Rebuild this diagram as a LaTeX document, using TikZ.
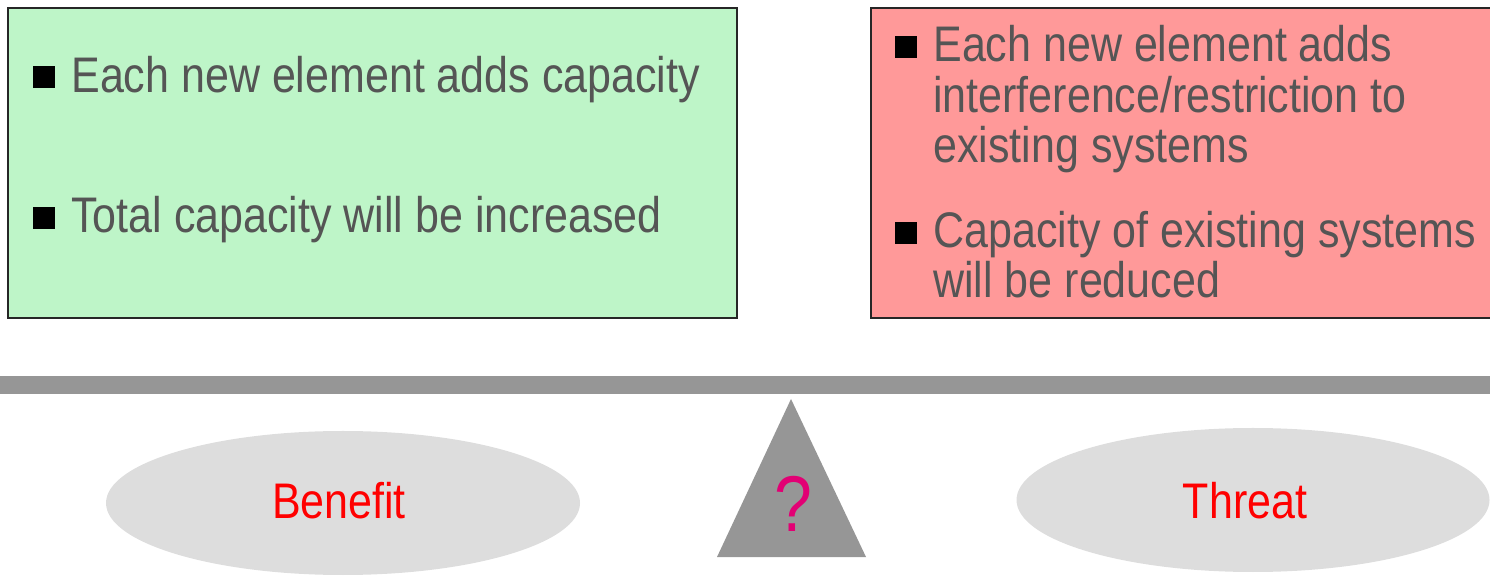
\documentclass[tikz,border=0pt]{standalone}
\usepackage{fontspec}
\setmainfont{Liberation Sans}[FakeStretch=0.86]
\usetikzlibrary{positioning}
\definecolor{boxgreen}{HTML}{BEF5C8}
\definecolor{boxred}{HTML}{FF9999}
\definecolor{beamgray}{HTML}{969696}
\definecolor{potgray}{HTML}{DDDDDD}
\definecolor{txtgray}{HTML}{555555}
\definecolor{tmagenta}{HTML}{E20074}
\newcommand{\itemfont}{\fontsize{28.45pt}{29pt}\selectfont}
\newcommand{\askfont}{\fontsize{45pt}{46pt}\selectfont}

\begin{document}
\begin{tikzpicture}[
		item/.style={anchor=base west, align=left, text=txtgray, font=\itemfont, inner sep=0pt},
		square/.style={fill=black, minimum size=0.44cm, inner sep=0pt},
		pan/.style={anchor=base, text=red, font=\itemfont, inner sep=0pt}
	]
		\useasboundingbox (0,0) rectangle (29.8,11.52);
		% boxes
		\draw[fill=boxgreen, line width=1.2pt, draw=black!85] (0.16,5.16) rectangle (14.74,11.36);
		\draw[fill=boxred, line width=1.2pt, draw=black!85] (17.42,5.16) rectangle (29.95,11.36);
		% bullets
		\foreach \x/\y [count=\i] in {0.88/9.97, 0.88/7.15, 18.12/10.58, 18.12/6.86}
		{
			\node[square] (sq\i) at (\x,\y) {};
		}
		% items of the benefit box
		\node[item] (add) at (1.42,9.66) {Each new element adds capacity};
		\node[item] (total) at (1.42,6.86) {Total capacity will be increased};
		% items of the threat box (base = last line)
		\node[item] (restrict) at (18.66,8.26) {Each new element adds\\interference/restriction to\\existing systems};
		\node[item] (reduce) at (18.66,5.56) {Capacity of existing systems\\will be reduced};
		% beam of the balance
		\fill[beamgray] (0,3.64) rectangle (29.8,4.0);
		% pivot
		\fill[beamgray] (14.34,0.38) -- (15.82,3.54) -- (17.32,0.38) -- cycle;
		\node[anchor=base, text=tmagenta, font=\askfont, inner sep=0pt] (ask) at (15.86,0.90) {?};
		% the two pans
		\fill[potgray] (6.86,1.46) ellipse (4.74 and 1.44);
		\fill[potgray] (25.06,1.52) ellipse (4.73 and 1.44);
		\node[pan] (benefit) at (6.78,1.16) {Benefit};
		\node[pan] (threat) at (24.90,1.16) {Threat};
	\end{tikzpicture}
\end{document}
